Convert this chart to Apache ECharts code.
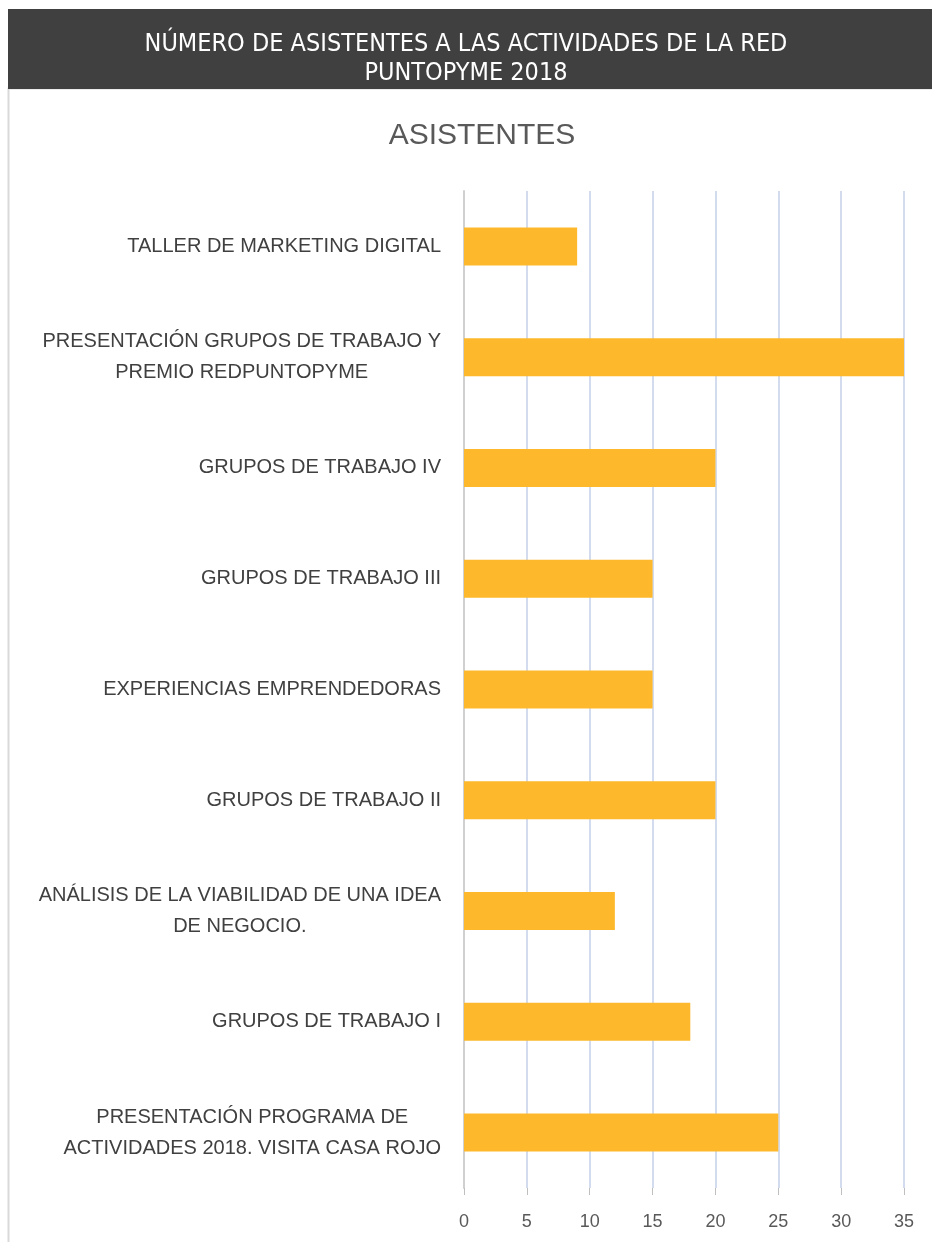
<!DOCTYPE html>
<html>
<head>
<meta charset="utf-8">
<script src="https://cdn.jsdelivr.net/npm/echarts@6/dist/echarts.min.js"></script>
<style>
html,body{margin:0;padding:0;background:#fff;}
#chart{width:932px;height:1242px;}
</style>
</head>
<body>
<div id="chart"></div>
<script>
const headerTitle = "NÚMERO DE ASISTENTES A LAS ACTIVIDADES DE LA RED\nPUNTOPYME 2018";
const chartTitle = "ASISTENTES";
// bottom-to-top order (ECharts category axis)
const categories = [
  "PRESENTACIÓN PROGRAMA DE\nACTIVIDADES 2018. VISITA CASA ROJO",
  "GRUPOS DE TRABAJO I",
  "ANÁLISIS DE LA VIABILIDAD DE UNA IDEA\nDE NEGOCIO.",
  "GRUPOS DE TRABAJO II",
  "EXPERIENCIAS EMPRENDEDORAS",
  "GRUPOS DE TRABAJO III",
  "GRUPOS DE TRABAJO IV",
  "PRESENTACIÓN GRUPOS DE TRABAJO Y\nPREMIO REDPUNTOPYME",
  "TALLER DE MARKETING DIGITAL"
];
const asistentes = [25, 18, 12, 20, 15, 15, 20, 35, 9];
const xTicks = [0, 5, 10, 15, 20, 25, 30, 35];

const chart = echarts.init(document.getElementById('chart'), null, {renderer: 'canvas'});
const labelFont = '"Liberation Sans", Arial, sans-serif';
chart.setOption({
  animation: false,
  backgroundColor: '#ffffff',
  graphic: [
    {type: 'rect', shape: {x: 8.5, y: 88.5, width: 940, height: 1170}, style: {fill: '#ffffff', stroke: '#d9d9d9', lineWidth: 2}, z: 0},
    {type: 'rect', shape: {x: 8, y: 9, width: 924, height: 80}, style: {fill: '#404040'}, z: 1},
    {type: 'text', left: 'center', top: 30, style: {text: headerTitle, fill: '#ffffff', font: '25px "DejaVu Sans Condensed", "DejaVu Sans", sans-serif', textAlign: 'center', lineHeight: 29}, z: 2}
  ],
  title: {
    text: chartTitle,
    left: 477,
    top: 116,
    textAlign: 'center',
    textStyle: {color: '#595959', fontSize: 30, fontWeight: 'normal', fontFamily: labelFont}
  },
  grid: {left: 464, right: 28, top: 191, bottom: 54, containLabel: false},
  xAxis: {
    type: 'value',
    min: 0, max: 35, interval: 5,
    axisLine: {show: false},
    axisTick: {show: true, length: 7, lineStyle: {color: '#bfbfbf'}},
    axisLabel: {
      color: '#595959', fontSize: 18, fontFamily: labelFont, margin: 25,
      formatter: v => xTicks.includes(v) ? String(v) : ''
    },
    splitLine: {show: true, lineStyle: {color: '#c3d1e8', width: 1.5}}
  },
  yAxis: {
    type: 'category',
    data: categories,
    axisLine: {show: true, lineStyle: {color: '#d0d0d0', width: 2}},
    axisTick: {show: false},
    axisLabel: {
      color: '#404040', fontSize: 20, fontFamily: labelFont, margin: 23, lineHeight: 31,
      formatter: v => v.split('\n').map(s => '{c|' + s + '}').join('\n'),
      rich: {c: {align: 'center', color: '#404040', fontSize: 20, fontFamily: labelFont, lineHeight: 31}}
    }
  },
  series: [{
    type: 'bar',
    data: asistentes,
    barWidth: 38,
    itemStyle: {color: '#FDB92B'}
  }]
});
</script>
</body>
</html>
